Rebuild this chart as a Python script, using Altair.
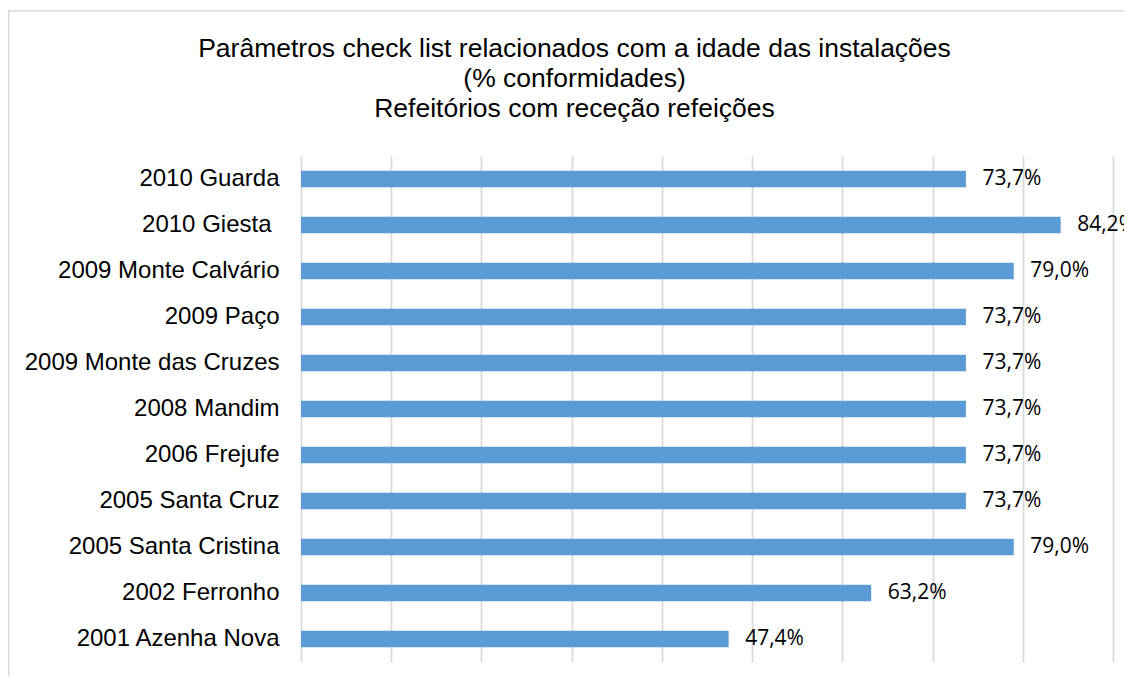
import altair as alt
import pandas as pd

categories = [
    "2010 Guarda",
    "2010 Giesta",
    "2009 Monte Calvário",
    "2009 Paço",
    "2009 Monte das Cruzes",
    "2008 Mandim",
    "2006 Frejufe",
    "2005 Santa Cruz",
    "2005 Santa Cristina",
    "2002 Ferronho",
    "2001 Azenha Nova",
]
values = [73.7, 84.2, 79.0, 73.7, 73.7, 73.7, 73.7, 73.7, 79.0, 63.2, 47.4]
grid_ticks = [0, 10, 20, 30, 40, 50, 60, 70, 80, 90]
title_lines = [
    "Parâmetros check list relacionados com a idade das instalações",
    "(% conformidades)",
    "Refeitórios com receção refeições",
]

labels = [f"{v:.1f}".replace(".", ",") + "%" for v in values]
df = pd.DataFrame({"cat": categories, "val": values, "lab": labels})

x = alt.X(
    "val:Q",
    scale=alt.Scale(domain=[0, 90], nice=False, zero=True),
    axis=alt.Axis(
        values=grid_ticks, labels=False, ticks=False, tickSize=0, domain=False,
        grid=True, gridColor="#D9D9D9", gridWidth=1.75, title=None,
    ),
)
y = alt.Y(
    "cat:N",
    sort=categories,
    scale=alt.Scale(paddingInner=0, paddingOuter=0),
    axis=alt.Axis(
        title=None, ticks=False, tickSize=0, domain=False, grid=False,
        labelFont="Liberation Sans", labelFontSize=24, labelColor="black",
        labelPadding={"condition": {"test": "datum.value == '2010 Giesta'", "value": 30}, "value": 22},
        labelLimit=400,
    ),
)

base = alt.Chart(df)
bars = base.mark_bar(color="#5B9BD5", size=16.5).encode(x=x, y=y)
text = base.mark_text(
    align="left", baseline="middle", dx=16.5,
    font="Open Sans", fontSize=21, color="black",
).encode(x="val:Q", y=alt.Y("cat:N", sort=categories), text="lab:N")

frame = pd.DataFrame({"k": [0]})
left_line = alt.Chart(frame).mark_rule(color="#D9D9D9", strokeWidth=1.5).encode(
    x=alt.value(-292.3), y=alt.value(-145.5), y2=alt.value(520)
)
top_line = alt.Chart(frame).mark_rule(color="#D9D9D9", strokeWidth=1.5).encode(
    x=alt.value(-293), x2=alt.value(830), y=alt.value(-145.3)
)

title_layers = []
for i, line in enumerate(title_lines):
    title_layers.append(
        alt.Chart(frame).mark_text(
            text=line, font="Liberation Sans", fontSize=26.5, color="black",
            align="center", baseline="alphabetic",
        ).encode(x=alt.value(273.5), y=alt.value(-99 + 30 * i))
    )

chart = alt.layer(bars, text, left_line, top_line, *title_layers).properties(
    width=812,
    height=506,
    background="white",
    autosize=alt.AutoSizeParams(type="none"),
    padding={"left": 293, "top": 148, "right": 11, "bottom": 14},
).configure_view(strokeWidth=0, stroke="transparent")

chart.save("out.html", embed_options={"renderer": "svg", "actions": False})
